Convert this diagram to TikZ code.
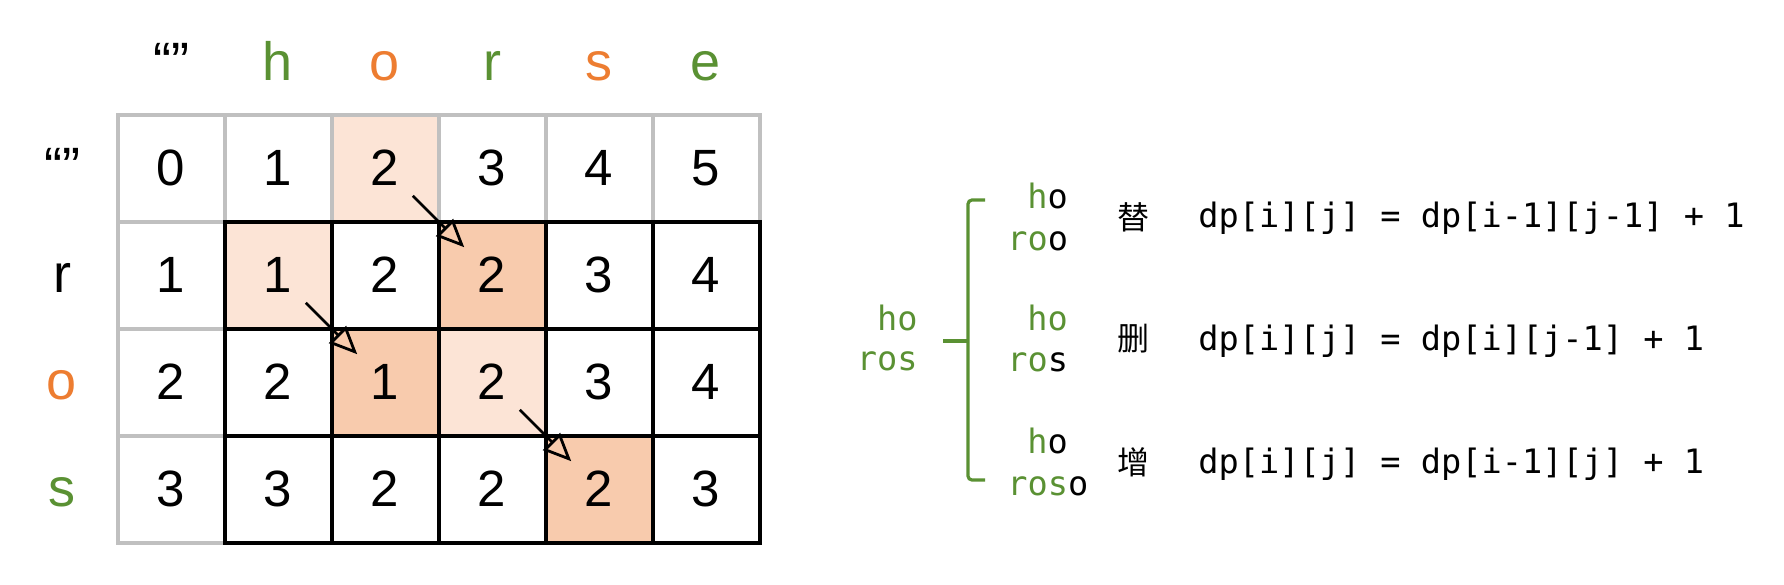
\documentclass[tikz,border=0pt]{standalone}
\usepackage{fontspec}
\setmainfont{Liberation Sans}
\newfontfamily\mono{DejaVu Sans Mono}
\newfontfamily\cjk{Noto Sans CJK SC}
\usetikzlibrary{positioning,calc,arrows.meta}
\definecolor{grn}{HTML}{5A9133}
\definecolor{org}{HTML}{ED7D31}
\definecolor{lite}{HTML}{FCE4D6}
\definecolor{dark}{HTML}{F8CBAD}
\definecolor{gry}{HTML}{C0C0C0}

\begin{document}
\begin{tikzpicture}[x=0.5pt,y=-0.5pt,
	cell/.style={draw=gry, line width=2pt, minimum size=53.5pt, inner sep=0pt,
			font=\fontsize{25.5}{30}\selectfont},
	inner/.style={cell, draw=black}, % 右下 3x5 的黑框
	lbl/.style={anchor=base, inner sep=0pt, font=\fontsize{27}{32}\selectfont},
	trans/.style={line width=1.4pt,
			-{Triangle[open, length=14pt, width=12pt]}
	},
	code/.style={anchor=base west, inner sep=0pt, font=\mono\fontsize{16.8}{20}\selectfont},
	op/.style={inner sep=0pt, font=\cjk\fontsize{16}{19}\selectfont},
	brace/.style={grn, line width=1.6pt, rounded corners=2pt}
]
	\useasboundingbox (0,0) rectangle (1784,584);

	%% 涂色的格子
	\foreach \row/\col/\shade in {0/2/lite,1/1/lite,1/3/dark,2/2/dark,2/3/lite,3/4/dark}
	\fill[\shade] ({117.5+107*\col},{114.5+107*\row}) rectangle ++(107,107);

	%% dp 表
	\foreach \row/\vals in {0/{0,1,2,3,4,5},1/{1,1,2,2,3,4},2/{2,2,1,2,3,4},3/{3,3,2,2,2,3}}{
		\foreach \v [count=\col from 0] in \vals {
			\def\st{cell}
			\ifnum\row>0 \ifnum\col>0 \def\st{inner}\fi\fi
			\node[\st] (c\row\col) at ({117.5+107*(\col+0.5)},{114.5+107*(\row+0.5)}) {\v};
		}
	}

	%% 表头
	\node[lbl] (h0) at (c00 |- 0,80.7) {“”};
	\foreach \t/\cl [count=\col from 1] in {h/grn,o/org,r/grn,s/org,e/grn}
	\node[lbl, text=\cl] (h\col) at (c0\col |- 0,80.7) {\t};
	\node[lbl] (r0) at (62,0 |- c00.base) {“”};
	\foreach \t/\cl [count=\row from 1] in {r/black,o/org,s/grn}
	\node[lbl, text=\cl] (r\row) at (62,0 |- c\row0.base) {\t};

	%% 转移箭头
	\draw[trans] ($(c02)!.5!(c02.south east)$) -- ($(c13)!.5!(c13.north west)$);
	\draw[trans] ($(c11)!.5!(c11.south east)$) -- ($(c22)!.5!(c22.north west)$);
	\draw[trans] ($(c23)!.5!(c23.south east)$) -- ($(c34)!.5!(c34.north west)$);

	%% 右边: ho / ros
	\node[code, anchor=base east, text=grn] (s1) at (918,330) {ho};
	\node[code, anchor=base east, text=grn] (s2) at (918,370) {ros};
	\draw[brace] (943,341) -- (968,341);
	\draw[brace] (985,200) -- (968,200) -- (968,480) -- (985,480);

	\node[code] (t1a) at (1027,208) {\textcolor{grn}{h}o};
	\node[code] (t1b) at (1007,250) {\textcolor{grn}{ro}o};
	\node[code, text=grn] (t2a) at (1027,330) {ho};
	\node[code] (t2b) at (1007,371) {\textcolor{grn}{ro}s};
	\node[code] (t3a) at (1027,453) {\textcolor{grn}{h}o};
	\node[code] (t3b) at (1007,495) {\textcolor{grn}{ros}o};

	\node[op] (o1) at (1133,217) {替};
	\node[op] (o2) at (1133,339) {删};
	\node[op] (o3) at (1133,462) {增};

	\node[code] (e1) at (1198,227) {dp[i][j] = dp[i-1][j-1] + 1};
	\node[code] (e2) at (1198,350) {dp[i][j] = dp[i][j-1] + 1};
	\node[code] (e3) at (1198,473) {dp[i][j] = dp[i-1][j] + 1};
\end{tikzpicture}
\end{document}
